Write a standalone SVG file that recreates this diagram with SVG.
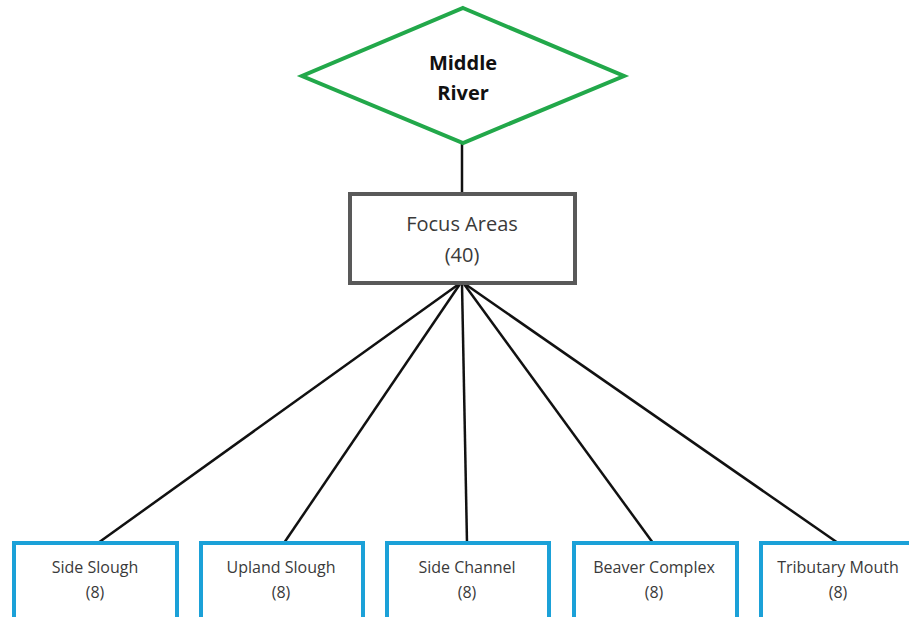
<svg xmlns="http://www.w3.org/2000/svg" width="909" height="617" viewBox="0 0 909 617">
<style>
.t{font-family:"Open Sans","Liberation Sans",sans-serif;fill:#3a3a3a;text-anchor:middle}
.b{fill:#111;font-weight:bold}
.leaf{fill:#fff;stroke:#1ba1d8;stroke-width:4}
.c{stroke:#111;stroke-width:2.5;fill:none}
</style>
<rect width="909" height="617" fill="#fff"/>
<g id="connectors">
<line class="c" x1="462" y1="143" x2="462" y2="194"/>
<line class="c" x1="459" y1="284" x2="98" y2="543"/>
<line class="c" x1="460" y1="284" x2="284" y2="543"/>
<line class="c" x1="462" y1="284" x2="467" y2="543"/>
<line class="c" x1="464" y1="284" x2="653" y2="543"/>
<line class="c" x1="465" y1="284" x2="838" y2="543"/>
</g>
<g id="middle-river">
<polygon points="463,8 624,76 463,143 302,76" fill="#fff" stroke="#22a84a" stroke-width="4"/>
<text class="t b" x="463" y="70" font-size="20">Middle</text>
<text class="t b" x="463" y="100" font-size="20">River</text>
</g>
<g id="focus-areas">
<rect x="350" y="194" width="225" height="89" fill="#fff" stroke="#595959" stroke-width="4"/>
<text class="t" x="462" y="231" font-size="20">Focus Areas</text>
<text class="t" x="462" y="262" font-size="20">(40)</text>
</g>
<g id="side-slough">
<rect class="leaf" x="14" y="543" width="163" height="80"/>
<text class="t" x="95" y="573" font-size="16">Side Slough</text>
<text class="t" x="95" y="598" font-size="16">(8)</text>
</g>
<g id="upland-slough">
<rect class="leaf" x="201" y="543" width="162" height="80"/>
<text class="t" x="281" y="573" font-size="16">Upland Slough</text>
<text class="t" x="281" y="598" font-size="16">(8)</text>
</g>
<g id="side-channel">
<rect class="leaf" x="387" y="543" width="162" height="80"/>
<text class="t" x="467" y="573" font-size="16">Side Channel</text>
<text class="t" x="467" y="598" font-size="16">(8)</text>
</g>
<g id="beaver-complex">
<rect class="leaf" x="574" y="543" width="163" height="80"/>
<text class="t" x="654" y="573" font-size="16">Beaver Complex</text>
<text class="t" x="654" y="598" font-size="16">(8)</text>
</g>
<g id="tributary-mouth">
<rect class="leaf" x="761" y="543" width="163" height="80"/>
<text class="t" x="838" y="573" font-size="16">Tributary Mouth</text>
<text class="t" x="838" y="598" font-size="16">(8)</text>
</g>
</svg>
